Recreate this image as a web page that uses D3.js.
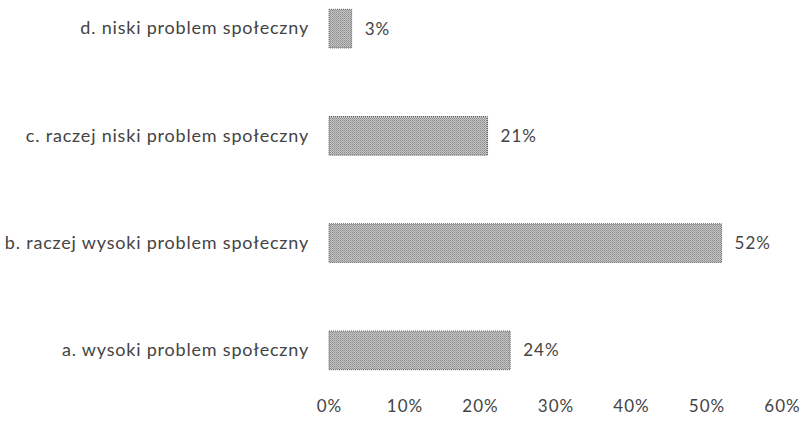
<!DOCTYPE html>
<html><head><meta charset="utf-8">
<script src="https://cdn.jsdelivr.net/npm/d3@7"></script>
<style>body{margin:0;background:#fff}svg{display:block}</style>
</head><body>
<svg id="c" width="804" height="439"></svg>
<script>
const categories = ["d. niski problem społeczny","c. raczej niski problem społeczny","b. raczej wysoki problem społeczny","a. wysoki problem społeczny"];
const values = [3, 21, 52, 24];
const ticks = [0,10,20,30,40,50,60];

const svg = d3.select("#c");
const defs = svg.append("defs");
const pat = defs.append("pattern").attr("id","dither").attr("width",2).attr("height",2).attr("patternUnits","userSpaceOnUse");
pat.append("rect").attr("width",2).attr("height",2).attr("fill","#c4c4c4");
pat.append("rect").attr("width",1).attr("height",1).attr("fill","#8e8e8e");
pat.append("rect").attr("x",1).attr("y",1).attr("width",1).attr("height",1).attr("fill","#a0a0a0");

const x = d3.scaleLinear().domain([0,60]).range([329,782]);
const y = d3.scaleBand().domain(categories).range([-25,404]).paddingInner(0.64).paddingOuter(0.32);
const font = "Lato, sans-serif";

svg.selectAll("rect.bar").data(values).join("rect").attr("class","bar")
  .attr("x",x(0)).attr("y",(d,i)=>y(categories[i]))
  .attr("width",d=>x(d)-x(0)).attr("height",y.bandwidth())
  .attr("fill","url(#dither)").attr("stroke","#5a5a5a").attr("stroke-width",1).attr("stroke-dasharray","1,1");

svg.selectAll("text.val").data(values).join("text").attr("class","val")
  .attr("x",d=>x(d)+13).attr("y",(d,i)=>y(categories[i])+y.bandwidth()/2)
  .attr("dy","0.35em").attr("font-family",font).attr("font-size",17).attr("letter-spacing",1).attr("fill","#444")
  .text(d=>d+"%");

const ya = d3.axisLeft(y).tickSize(0).tickPadding(0);
const gy = svg.append("g").attr("transform","translate(309,0)").call(ya);
gy.select(".domain").remove();
gy.selectAll("text").attr("font-family",font).attr("font-size",18).attr("letter-spacing",0.8).attr("fill","#444");

const xa = d3.axisBottom(x).tickValues(ticks).tickFormat(d=>d+"%").tickSize(0).tickPadding(0);
const gx = svg.append("g").attr("transform","translate(0,400)").call(xa);
gx.select(".domain").remove();
gx.selectAll("text").attr("font-family",font).attr("font-size",17).attr("letter-spacing",1).attr("fill","#444");
</script>
</body></html>
